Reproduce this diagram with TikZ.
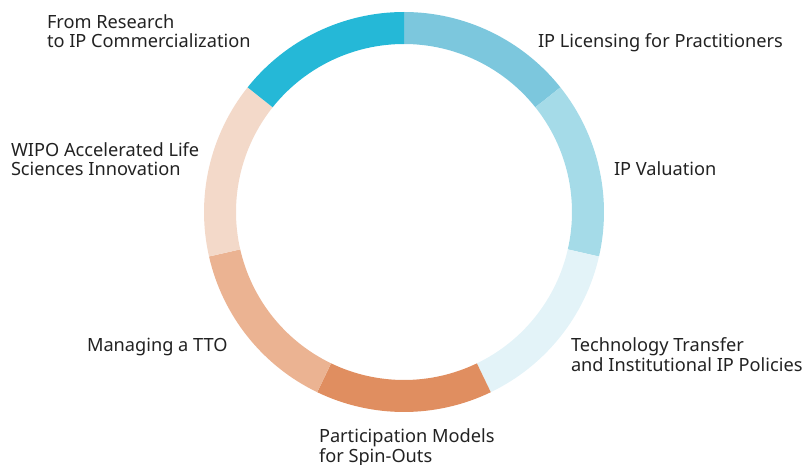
\documentclass[tikz,border=0pt]{standalone}
\usepackage{fontspec}
\setmainfont{Noto Sans}
\definecolor{cLic}{HTML}{7CC7DD}
\definecolor{cVal}{HTML}{A5DBE8}
\definecolor{cTech}{HTML}{E3F3F8}
\definecolor{cPart}{HTML}{E08E60}
\definecolor{cMan}{HTML}{EBB392}
\definecolor{cWipo}{HTML}{F3D9C9}
\definecolor{cRes}{HTML}{25B8D7}
\definecolor{txt}{HTML}{222222}
\begin{document}
\begin{tikzpicture}[x=1pt,y=1pt,
  lbl/.style={anchor=base west,inner sep=0pt,outer sep=0pt,align=left,text=txt,
    font=\fontsize{18.2}{19.6}\selectfont}]
\useasboundingbox (0,0) rectangle (804,-465);
\coordinate (c) at (404,-212);
\def\Ro{200}\def\Ri{168}
\foreach \k/\col in {0/cLic,1/cVal,2/cTech,3/cPart,4/cMan,5/cWipo,6/cRes}{
  \pgfmathsetmacro{\a}{90-\k*360/7}
  \pgfmathsetmacro{\b}{90-(\k+1)*360/7}
  \fill[\col] ([shift={(\a:\Ro)}]c) arc[start angle=\a,end angle=\b,radius=\Ro]
     -- ([shift={(\b:\Ri)}]c) arc[start angle=\b,end angle=\a,radius=\Ri] -- cycle;
}
\node[lbl] (lres) at (47,-48) {From Research\\to IP Commercialization};
\node[lbl] (lwipo) at (11,-176) {WIPO Accelerated Life\\Sciences Innovation};
\node[lbl] (llic) at (538,-48) {IP Licensing for Practitioners};
\node[lbl] (lval) at (614,-176) {IP Valuation};
\node[lbl] (ltech) at (571,-371) {Technology Transfer\\and Institutional IP Policies};
\node[lbl] (lman) at (87,-352) {Managing a TTO};
\node[lbl] (lpart) at (319,-462) {Participation Models\\for Spin-Outs};
\end{tikzpicture}
\end{document}
